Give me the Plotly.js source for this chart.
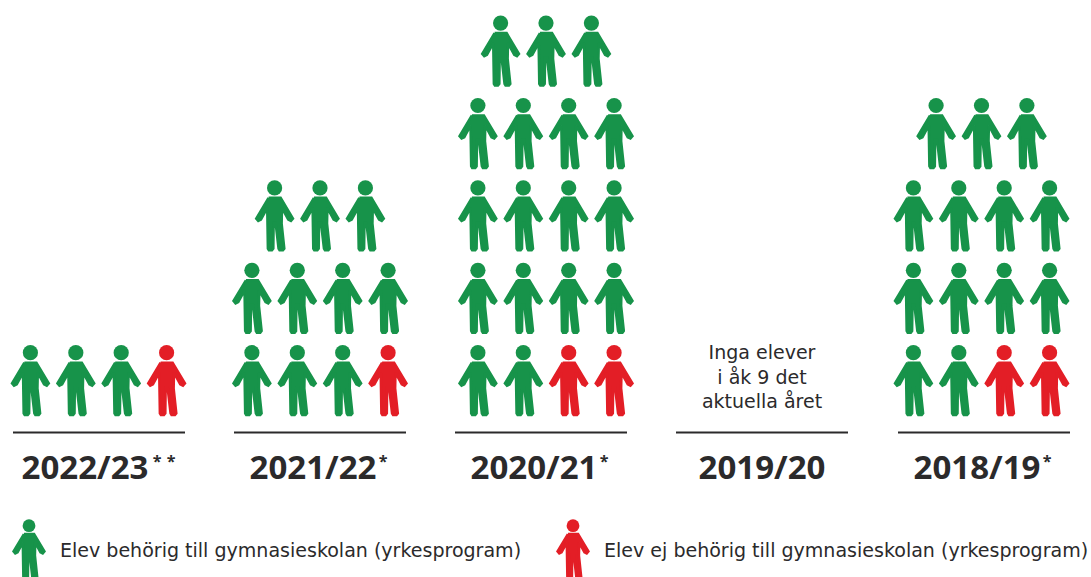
<!DOCTYPE html>
<html><head><meta charset="utf-8">
<script src="https://cdn.plot.ly/plotly-3.0.1.min.js"></script>
<style>html,body{margin:0;padding:0;background:#fff}#c{width:1091px;height:577px}</style></head>
<body><div id="c"></div>
<script>
// data
const years = ["2022/23","2021/22","2020/21","2019/20","2018/19"];
const yearMarks = ["**","*","*","","*"];
const eligible = [3,10,17,0,13];
const notEligible = [1,1,2,0,2];
const noDataNote = "Inga elever<br>i åk 9 det<br>aktuella året";
const legendLabels = ["Elev behörig till gymnasieskolan (yrkesprogram)","Elev ej behörig till gymnasieskolan (yrkesprogram)"];

// layout constants
const GREEN="#17934a", RED="#e31e26", INK="#2b2a2b";
const FONT="'DejaVu Sans', sans-serif", BOLD="'Open Sans', sans-serif";
const peopleCenter=[98.5,320,546,762,981.5], ruleCenter=[99,320,541,762,984];
const colPitch=45.4, rowPitch=82.4, firstHeadY=352.7, perRow=4;
const glyph=[[73,98],[109,98],[146,160],[140,167],[132,163],[113,128],[112,175],[120,250],[116,255],[106,255],[103,250],[94,172],[88,172],[87,250],[83,255],[74,255],[71,250],[69,172],[69,128],[50,163],[42,167],[36,160]]
  .map(p=>[(p[0]-91)/3,(p[1]-68)/3]);

function addGlyph(b,cx,hy,s){
  glyph.forEach(p=>{b.x.push(cx+p[0]*s);b.y.push(hy+p[1]*s);});
  b.x.push(cx+glyph[0][0]*s,null);b.y.push(hy+glyph[0][1]*s,null);
  b.hx.push(cx);b.hy.push(hy);
}
const buckets={g:{x:[],y:[],hx:[],hy:[]},r:{x:[],y:[],hx:[],hy:[]}};
years.forEach((yr,i)=>{
  const rows=[];
  let rem=eligible[i]+notEligible[i];
  while(rem>0){const n=Math.min(perRow,rem);rows.push(n);rem-=n;}
  let redsLeft=notEligible[i];
  rows.forEach((n,r)=>{
    const redsHere=Math.min(redsLeft,n);
    redsLeft-=redsHere;
    for(let k=0;k<n;k++){
      const cx=peopleCenter[i]+(k-(n-1)/2)*colPitch;
      const hy=firstHeadY-r*rowPitch;
      addGlyph(k>=n-redsHere?buckets.r:buckets.g,cx,hy,1);
    }
  });
});
const traces=[];
function people(b,color,size){
  traces.push({type:"scatter",mode:"lines",x:b.x,y:b.y,fill:"toself",fillcolor:color,
    line:{color:color,width:2.6,shape:"linear"},hoverinfo:"skip",showlegend:false});
  traces.push({type:"scatter",mode:"markers",x:b.hx,y:b.hy,marker:{color:color,size:size,line:{width:0}},hoverinfo:"skip",showlegend:false});
}
people(buckets.g,GREEN,15.2);
people(buckets.r,RED,15.2);
const lg={x:[],y:[],hx:[],hy:[]}, lr={x:[],y:[],hx:[],hy:[]};
addGlyph(lg,29,525.7,0.84); addGlyph(lr,573,525.7,0.84);
people(lg,GREEN,12.8); people(lr,RED,12.8);

const rx=[],ry=[];
ruleCenter.forEach(c=>{rx.push(c-86,c+86,null);ry.push(432.5,432.5,null);});
traces.push({type:"scatter",mode:"lines",x:rx,y:ry,line:{color:INK,width:1.8},hoverinfo:"skip",showlegend:false});

function label(x,y,text,pos,font){
  traces.push({type:"scatter",mode:"text",x:[x],y:[y],text:[text],textposition:pos,textfont:font,hoverinfo:"skip",showlegend:false,cliponaxis:false});
}
years.forEach((yr,i)=>{
  const n=yearMarks[i].length;
  const cx=ruleCenter[i]-7*n;
  label(cx,471,"<b>"+yr+"</b>","middle center",{family:BOLD,size:33,color:INK});
  for(let k=0;k<n;k++){
    label(cx+(n===2?72:70)+k*14,463,"<b>"+yearMarks[i][k]+"</b>","middle center",{family:BOLD,size:16,color:INK});
  }
});
label(762,379,noDataNote,"middle center",{family:FONT,size:19,color:INK});
label(60,552.5,legendLabels[0],"middle right",{family:FONT,size:19.05,color:INK});
label(604,552.5,legendLabels[1],"middle right",{family:FONT,size:19.05,color:INK});

Plotly.newPlot("c",traces,{
  width:1091,height:577,margin:{l:0,r:0,t:0,b:0},paper_bgcolor:"#fff",plot_bgcolor:"#fff",showlegend:false,
  xaxis:{range:[0,1091],visible:false,fixedrange:true},
  yaxis:{range:[577,0],visible:false,fixedrange:true}
},{displayModeBar:false,staticPlot:true});
</script></body></html>
